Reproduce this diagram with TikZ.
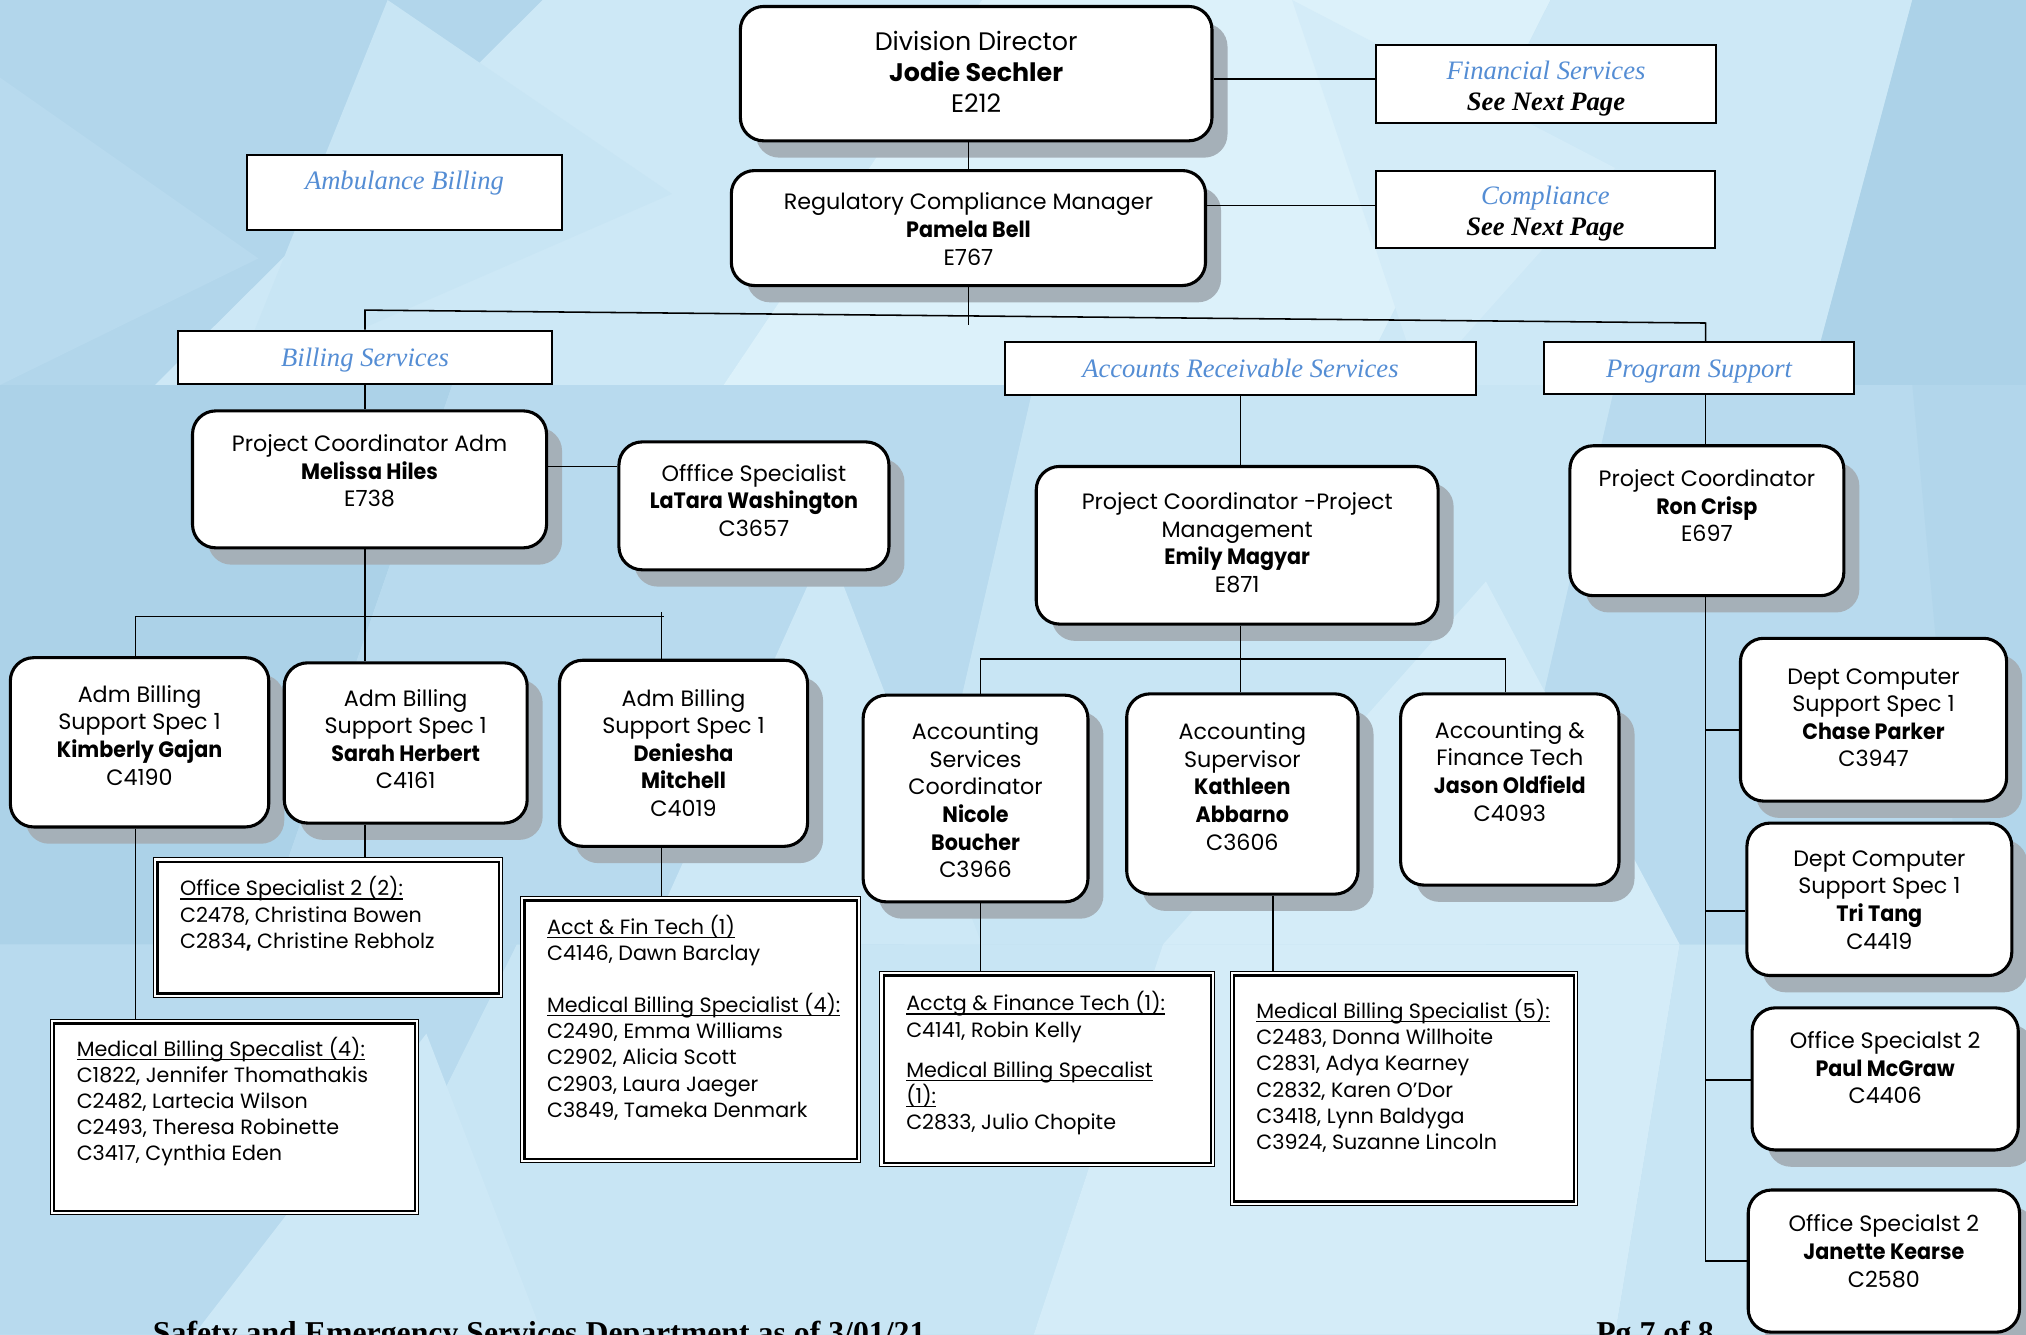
\documentclass[tikz,border=0pt]{standalone}
\usepackage{fontspec}
\newfontfamily\gothic{Poppins}[BoldFeatures={FakeStretch=0.93}]
\newfontfamily\gothicwide{Poppins}
\newfontfamily\tnr{Liberation Serif}
\usetikzlibrary{calc}
\definecolor{lblue}{RGB}{84,141,212}
\definecolor{shad}{RGB}{165,176,184}
\definecolor{bgbase}{RGB}{192,224,241}
\definecolor{bgA}{RGB}{178,214,235}
\definecolor{bgB}{RGB}{205,232,246}
\definecolor{bgC}{RGB}{220,241,250}
\definecolor{bgD}{RGB}{172,210,232}
\definecolor{bgE}{RGB}{184,218,238}
\definecolor{bgF}{RGB}{200,229,244}
\definecolor{bgG}{RGB}{212,236,248}
\pgfdeclarelayer{background}
\pgfdeclarelayer{shadows}
\pgfdeclarelayer{lines}
\pgfsetlayers{background,shadows,lines,main}
\tikzset{
  conn/.style={line width=0.6pt, draw=black},
  obox/.style={draw=black, line width=1.2pt, fill=white, rounded corners=9pt, inner sep=0pt},
  otext/.style={inner sep=0pt, align=center, font=\gothic\fontsize{8.6}{10.7}\selectfont},
  bigtext/.style={inner sep=0pt, align=center, font=\gothicwide\fontsize{9.8}{12}\selectfont},
  lboxs/.style={draw=black, line width=0.8pt, fill=white, inner sep=0pt},
  ltext/.style={inner sep=0pt, align=center, text=lblue, font=\tnr\itshape\fontsize{10.3}{12}\selectfont},
  dboxs/.style={draw=black, line width=0.4pt, fill=white, inner sep=0pt},
  dinner/.style={draw=black, line width=0.9pt},
  dtext/.style={inner sep=0pt, align=left, font=\gothic\fontsize{8}{10.1}\selectfont},
  footer/.style={inner sep=0pt, font=\tnr\bfseries\fontsize{12.3}{14}\selectfont},
}
\newcommand\firstline{\rule{0pt}{8pt}}
\newcommand\ulx[1]{\setbox0\hbox{#1}\rlap{\rule[-1.4pt]{\wd0}{0.45pt}}\box0}
% org box: [text style] name x1 y1 x2 y2 firstline-y text
\newcommand\obox[8][otext]{%
  \begin{pgfonlayer}{shadows}
    \fill[shad, rounded corners=9pt] ({#3+12},{#4+13}) rectangle ({#5+12},{#6+13});
  \end{pgfonlayer}
  \node[obox, minimum width={(#5-#3)*0.5}, minimum height={(#6-#4)*0.5}] (#2) at ({(#3+#5)/2},{(#4+#6)/2}) {};
  \node[#1, anchor=north] at ({(#3+#5)/2},{#7-10}) {\firstline#8};
}
% label box: name x1 y1 x2 y2 firstline-y text
\newcommand\lbox[7]{%
  \node[lboxs, minimum width={(#4-#2)*0.5}, minimum height={(#5-#3)*0.5}] (#1) at ({(#2+#4)/2},{(#3+#5)/2}) {};
  \begin{scope}
    \clip ({#2+1},{#3+1}) rectangle ({#4-1},{#5-1});
    \node[ltext, anchor=north] at ({(#2+#4)/2},{#6-10}) {\firstline#7};
  \end{scope}
}
% double-line list box: name x1 y1 x2 y2 firstline-y text
\newcommand\dbox[7]{%
  \node[dboxs, minimum width={(#4-#2)*0.5}, minimum height={(#5-#3)*0.5}] (#1) at ({(#2+#4)/2},{(#3+#5)/2}) {};
  \draw[dinner] ({#2+3},{#3+3}) rectangle ({#4-3},{#5-3});
  \node[dtext, anchor=north west] at ({#2+20},{#6-10}) {\firstline#7};
}
\begin{document}
\begin{tikzpicture}[x=0.5pt,y=-0.5pt]
\useasboundingbox (0,0) rectangle (1568,1033);
\begin{pgfonlayer}{background}
  \fill[bgbase] (0,0) rectangle (1568,1033);
  % top tile
  \fill[bgA] (0,0) -- (420,0) -- (120,298) -- (0,298) -- cycle;
  \fill[bgB] (420,0) -- (760,0) -- (560,298) -- (120,298) -- cycle;
  \fill[bgC] (760,0) -- (1200,0) -- (1050,298) -- (560,298) -- cycle;
  \fill[bgB] (1200,0) -- (1480,0) -- (1400,298) -- (1050,298) -- cycle;
  \fill[bgD] (1480,0) -- (1568,0) -- (1568,298) -- (1400,298) -- cycle;
  \fill[bgF] (300,0) -- (520,150) -- (180,298) -- cycle;
  \fill[bgG] (1000,0) -- (1250,130) -- (1100,298) -- cycle;
  \fill[bgE] (0,60) -- (200,200) -- (0,298) -- cycle;
  % middle tile
  \fill[bgD] (0,298) -- (350,298) -- (200,731) -- (0,731) -- cycle;
  \fill[bgE] (350,298) -- (800,298) -- (700,731) -- (200,731) -- cycle;
  \fill[bgF] (800,298) -- (1250,298) -- (1150,731) -- (700,731) -- cycle;
  \fill[bgE] (1250,298) -- (1568,298) -- (1568,731) -- (1150,731) -- cycle;
  \fill[bgG] (900,731) -- (1150,450) -- (1300,731) -- cycle;
  \fill[bgB] (500,731) -- (640,420) -- (760,731) -- cycle;
  \fill[bgA] (1480,298) -- (1568,298) -- (1568,731) -- (1520,731) -- cycle;
  % bottom tile
  \fill[bgE] (0,731) -- (400,731) -- (250,1033) -- (0,1033) -- cycle;
  \fill[bgF] (400,731) -- (900,731) -- (800,1033) -- (250,1033) -- cycle;
  \fill[bgG] (900,731) -- (1300,731) -- (1250,1033) -- (800,1033) -- cycle;
  \fill[bgF] (1300,731) -- (1568,731) -- (1568,1033) -- (1250,1033) -- cycle;
  \fill[bgB] (150,1033) -- (330,800) -- (420,1033) -- cycle;
\end{pgfonlayer}

% top level
\obox[bigtext]{dd}{573}{5}{938}{109}{33}{Division Director\\\textbf{Jodie Sechler}\\E212}
\obox{rcm}{566}{132}{933}{221}{156}{Regulatory Compliance Manager\\\textbf{Pamela Bell}\\E767}
\lbox{fin}{1065}{35}{1328}{95}{55}{Financial Services\\\textcolor{black}{\bfseries See Next Page}}
\lbox{comp}{1065}{132}{1327}{192}{152}{Compliance\\\textcolor{black}{\bfseries See Next Page}}
\lbox{amb}{191}{120}{435}{178}{140}{Ambulance Billing}
\lbox{bill}{138}{256}{427}{297}{277}{Billing Services}
\lbox{ar}{778}{265}{1142}{306}{286}{Accounts Receivable Services}
\lbox{prog}{1195}{265}{1435}{305}{286}{Program Support}

% billing services
\obox{mh}{149}{318}{423}{424}{343}{Project Coordinator Adm\\\textbf{Melissa Hiles}\\E738}
\obox{lw}{479}{342}{688}{441}{366}{Offfice Specialist\\\textbf{LaTara Washington}\\C3657}
\obox{kg}{8}{509}{208}{640}{537}{Adm Billing\\Support Spec 1\\\textbf{Kimberly Gajan}\\C4190}
\obox{sh}{220}{513}{408}{637}{540}{Adm Billing\\Support Spec 1\\\textbf{Sarah Herbert}\\C4161}
\obox{dm}{433}{511}{625}{655}{540}{Adm Billing\\Support Spec 1\\\textbf{Deniesha}\\\textbf{Mitchell}\\C4019}
\dbox{os2}{119}{664}{389}{772}{687}{\ulx{Office Specialist 2 (2):}\\C2478, Christina Bowen\\C2834\textbf{,} Christine Rebholz}
\dbox{mbsa}{39}{789}{324}{940}{811}{\ulx{Medical Billing Specalist (4):}\\C1822, Jennifer Thomathakis\\C2482, Lartecia Wilson\\C2493, Theresa Robinette\\C3417, Cynthia Eden}
\dbox{aft}{403}{694}{666}{900}{717}{\ulx{Acct \& Fin Tech (1)}\\C4146, Dawn Barclay\\[10pt]\ulx{Medical Billing Specialist (4):}\\C2490, Emma Williams\\C2902, Alicia Scott\\C2903, Laura Jaeger\\C3849, Tameka Denmark}

% accounts receivable
\obox{em}{802}{361}{1113}{483}{388}{Project Coordinator -Project\\Management\\\textbf{Emily Magyar}\\E871}
\obox{nb}{668}{538}{842}{698}{566}{Accounting\\Services\\Coordinator\\\textbf{Nicole}\\\textbf{Boucher}\\C3966}
\obox{ka}{872}{537}{1051}{692}{566}{Accounting\\Supervisor\\\textbf{Kathleen}\\\textbf{Abbarno}\\C3606}
\obox{jo}{1084}{537}{1253}{685}{565}{Accounting \&\\Finance Tech\\\textbf{Jason Oldfield}\\C4093}
\dbox{afl}{681}{752}{940}{903}{776}{\ulx{Acctg \& Finance Tech (1):}\\C4141, Robin Kelly\\[5.5pt]\ulx{Medical Billing Specalist}\\\ulx{(1):}\\C2833, Julio Chopite}
\dbox{mbsb}{952}{752}{1221}{933}{782}{\ulx{Medical Billing Specialist (5):}\\C2483, Donna Willhoite\\C2831, Adya Kearney\\C2832, Karen O’Dor\\C3418, Lynn Baldyga\\C3924, Suzanne Lincoln}

% program support
\obox{rc}{1215}{345}{1427}{461}{370}{Project Coordinator\\\textbf{Ron Crisp}\\E697}
\obox{cp}{1347}{494}{1553}{620}{523}{Dept Computer\\Support Spec 1\\\textbf{Chase Parker}\\C3947}
\obox{tt}{1352}{637}{1557}{755}{664}{Dept Computer\\Support Spec 1\\\textbf{Tri Tang}\\C4419}
\obox{pm}{1356}{780}{1562}{890}{805}{Office Specialst 2\\\textbf{Paul McGraw}\\C4406}
\obox{jk}{1353}{921}{1563}{1031}{947}{Office Specialst 2\\\textbf{Janette Kearse}\\C2580}

% footer
\node[footer, anchor=base west] (foot) at (118,1040) {Safety and Emergency Services Department as of 3/01/21};
\node[footer, anchor=base west] (pg) at (1235,1040) {Pg 7 of 8};

% connectors
\begin{pgfonlayer}{lines}
  \draw[conn] (rcm.north |- dd.south) -- (rcm.north);
  \path ([yshift=2pt]fin.west) coordinate (finw);
  \draw[conn] (finw -| dd.east) -- (finw);
  \path ([yshift=1.5pt]comp.west) coordinate (compw);
  \draw[conn] (compw -| rcm.east) -- (compw);
  \coordinate (bl) at (282.5,240);
  \coordinate (br) at (1320,250);
  \draw[conn] (rcm.south) -- ++(0,29);
  \draw[conn] (bill.north) -- (bl) -- (br) -- (br |- prog.north);
  \draw[conn] (bill.south) -- (bill.south |- mh.north);
  \path ([yshift=5pt]mh.east) coordinate (mhe);
  \draw[conn] (mhe) -- (mhe -| lw.west);
  \coordinate (j1) at (282.5,477);
  \coordinate (j1l) at (105,477);
  \coordinate (j1r) at (514,477);
  \coordinate (j1v) at (512,477);
  \draw[conn] (j1 |- mh.south) -- (j1 |- sh.north);
  \draw[conn] (j1l |- kg.north) -- (j1l) -- (j1r);
  \draw[conn] ([yshift=1.5pt]j1v) -- (j1v |- dm.north);
  \draw[conn] (j1l |- kg.south) -- (j1l |- mbsa.north);
  \draw[conn] (j1 |- sh.south) -- (j1 |- os2.north);
  \draw[conn] (j1v |- dm.south) -- (j1v |- aft.north);
  \draw[conn] (ar.south) -- (ar.south |- em.north);
  \coordinate (j2) at (960,510);
  \coordinate (j2l) at (759,510);
  \coordinate (j2r) at (1165,510);
  \draw[conn] (j2 |- em.south) -- (j2 |- ka.north);
  \draw[conn] (j2l |- nb.north) -- (j2l) -- (j2r) -- (j2r |- jo.north);
  \draw[conn] (j2l |- nb.south) -- (j2l |- afl.north);
  \coordinate (j4) at (985,720);
  \draw[conn] (j4 |- ka.south) -- (j4 |- mbsb.north);
  \coordinate (j3) at (1320,977);
  \draw[conn] (j3 |- prog.south) -- (j3 |- rc.north);
  \draw[conn] (j3 |- rc.south) -- (j3);
  \path ([yshift=-4pt]cp.west) coordinate (cpw);
  \draw[conn] (cpw -| j3) -- (cpw);
  \path ([yshift=-4.5pt]tt.west) coordinate (ttw);
  \draw[conn] (ttw -| j3) -- (ttw);
  \path ([yshift=-0.5pt]pm.west) coordinate (pmw);
  \draw[conn] (pmw -| j3) -- (pmw);
  \draw[conn] (j3 |- jk.west) -- (jk.west);
\end{pgfonlayer}
\end{tikzpicture}
\end{document}
